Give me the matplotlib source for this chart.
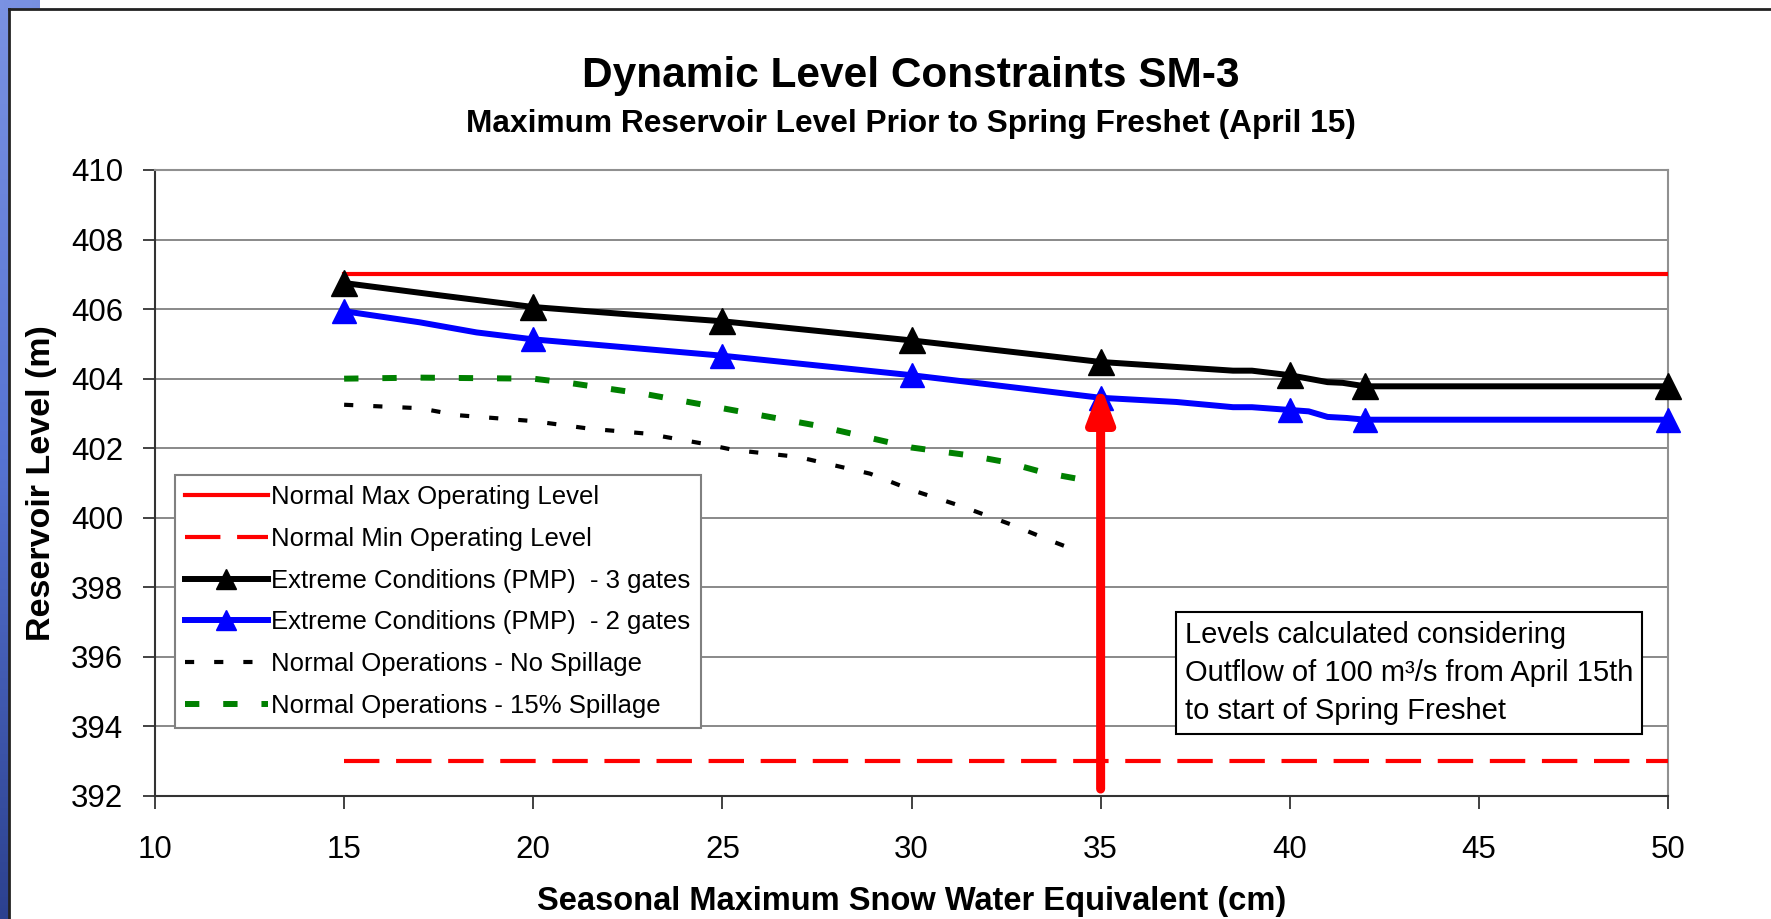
import numpy as np
import matplotlib
matplotlib.use("Agg")
import matplotlib.pyplot as plt
from matplotlib.lines import Line2D

plt.rcParams['font.family'] = ['Liberation Sans', 'DejaVu Sans']

# ---- data ----
max_x = [15, 50]
max_y = [407, 407]
min_x = [15, 50]
min_y = [393, 393]

# extreme conditions, 3 gates
black_x = [15, 17.5, 20, 22.5, 25, 30, 35, 38.5, 39, 40, 41, 41.4, 42, 50]
black_y = [406.75, 406.4, 406.06, 405.85, 405.65, 405.1, 404.48, 404.23, 404.23,
           404.1, 403.9, 403.88, 403.78, 403.78]
black_mk = [15, 20, 25, 30, 35, 40, 42, 50]

# extreme conditions, 2 gates
blue_x = [15, 17, 18.5, 20, 25, 30, 35, 37, 38.5, 39, 40, 40.5, 41, 41.5, 42, 50]
blue_y = [405.94, 405.62, 405.33, 405.13, 404.66, 404.1, 403.45, 403.33, 403.18,
          403.18, 403.1, 403.06, 402.9, 402.87, 402.82, 402.82]
blue_mk = [15, 20, 25, 30, 35, 40, 42, 50]

# normal operations, no spillage
nospill_x = [15, 17, 18, 20, 21.5, 23, 24.5, 25.3, 27, 28.9, 30, 31.3, 32.6, 33.8, 34.5]
nospill_y = [403.25, 403.15, 402.95, 402.78, 402.56, 402.42, 402.13, 401.95, 401.75,
             401.27, 400.8, 400.34, 399.82, 399.29, 399.0]

# normal operations, 15% spillage
spill_x = [15, 17, 20, 21, 23, 25, 27.5, 30, 31.5, 32.5, 33.5, 35]
spill_y = [404.0, 404.03, 404.0, 403.87, 403.55, 403.15, 402.65, 402.02, 401.8,
           401.6, 401.3, 401.0]

arrow_x = 35
arrow_from = 392.2
arrow_to = 403.8

W, H = 1771, 919
fig = plt.figure(figsize=(W / 100, H / 100), dpi=100)
fig.patch.set_facecolor('white')

# slide background strip on the left
grad = np.linspace(0, 1, 256).reshape(-1, 1)
cmap = matplotlib.colors.LinearSegmentedColormap.from_list('slide', ['#7a92e2', '#5673d2', '#2c418f'])
bax = fig.add_axes([0, 0, 9 / W, 1])
bax.imshow(grad, aspect='auto', cmap=cmap, extent=[0, 1, 1, 0])
bax.axis('off')
tax = fig.add_axes([0, 1 - 9 / H, 40 / W, 9 / H])
tax.imshow(grad.T[:, :40], aspect='auto', cmap=cmap, vmin=0, vmax=4)
tax.axis('off')
fig.add_artist(Line2D([9 / W, 9 / W], [0, 1 - 9 / H], transform=fig.transFigure, color='#222222', lw=2))
fig.add_artist(Line2D([9 / W, 1], [1 - 9 / H, 1 - 9 / H], transform=fig.transFigure, color='#222222', lw=2))

ax = fig.add_axes([155 / W, 1 - 796 / H, (1668 - 155) / W, (796 - 170) / H])

ax.plot(max_x, max_y, color='#ff0000', lw=3.0, label='Normal Max Operating Level', zorder=3)
ax.plot(min_x, min_y, color='#ff0000', lw=3.0, dashes=(8.5, 4.0), label='Normal Min Operating Level', zorder=3)

bi = [black_x.index(v) for v in black_mk]
ax.plot(black_x, black_y, color='black', lw=4.3, marker='^', markersize=19, markevery=bi,
        label='Extreme Conditions (PMP)  - 3 gates', zorder=4, clip_on=False)
ui = [blue_x.index(v) for v in blue_mk]
ax.plot(blue_x, blue_y, color='#0000ff', lw=4.3, marker='^', markersize=17, markevery=ui,
        label='Extreme Conditions (PMP)  - 2 gates', zorder=4, clip_on=False)
ax.plot(nospill_x, nospill_y, color='black', lw=3.0, dashes=(2.2, 4.8),
        label='Normal Operations - No Spillage', zorder=3)
ax.plot(spill_x, spill_y, color='#008000', lw=4.3, dashes=(2.4, 4.0),
        label='Normal Operations - 15% Spillage', zorder=3)

ax.annotate('', xy=(arrow_x, arrow_to), xytext=(arrow_x, arrow_from),
            arrowprops=dict(arrowstyle='-|>,head_length=1.05,head_width=0.4', color='#ff0000',
                            lw=6.5, mutation_scale=20, shrinkA=0, shrinkB=0), zorder=6)

ax.set_xlim(10, 50)
ax.set_ylim(392, 410)
ax.set_xticks(np.arange(10, 51, 5))
ax.set_yticks(np.arange(392, 411, 2))
ax.grid(axis='y', color='#808080', lw=1.3, zorder=0)
ax.set_axisbelow(True)
ax.tick_params(axis='both', direction='out', length=9, width=1.3, color='#333333',
               labelsize=22.5)
ax.tick_params(axis='y', pad=14)
ax.tick_params(axis='x', pad=19)
for s in ['left', 'bottom']:
    ax.spines[s].set_color('#333333')
    ax.spines[s].set_linewidth(1.5)
for s in ['top', 'right']:
    ax.spines[s].set_color('#909090')
    ax.spines[s].set_linewidth(1.5)

ax.set_xlabel('Seasonal Maximum Snow Water Equivalent (cm)', fontsize=23.5, fontweight='bold', labelpad=15)
ax.set_ylabel('Reservoir Level (m)', fontsize=24.5, fontweight='bold', labelpad=10)

leg = ax.legend(loc='upper left', bbox_to_anchor=((175 - 155) / 1513, (796 - 475) / 626),
                borderaxespad=0, fontsize=18.5, handlelength=3.2, handletextpad=0.15,
                labelspacing=0.69, fancybox=False, framealpha=1, edgecolor='#808080',
                borderpad=0.4)
leg.get_frame().set_linewidth(1.5)
for h in leg.legend_handles:
    h.set_markersize(14)

ax.text((1185 - 155) / 1513, (796 - 673) / 626,
        'Levels calculated considering\nOutflow of 100 m\u00b3/s from April 15th\nto start of Spring Freshet',
        transform=ax.transAxes, fontsize=21, ha='left', va='center', linespacing=1.45,
        bbox=dict(boxstyle='square,pad=0.3', fc='white', ec='black', lw=1.5), zorder=5)

fig.text(911 / W, 1 - 76 / H, 'Dynamic Level Constraints SM-3', fontsize=30.5, fontweight='bold',
         ha='center', va='center')
fig.text(911 / W, 1 - 124 / H, 'Maximum Reservoir Level Prior to Spring Freshet (April 15)',
         fontsize=22.8, fontweight='bold', ha='center', va='center')

fig.savefig('out.png', dpi=100)
